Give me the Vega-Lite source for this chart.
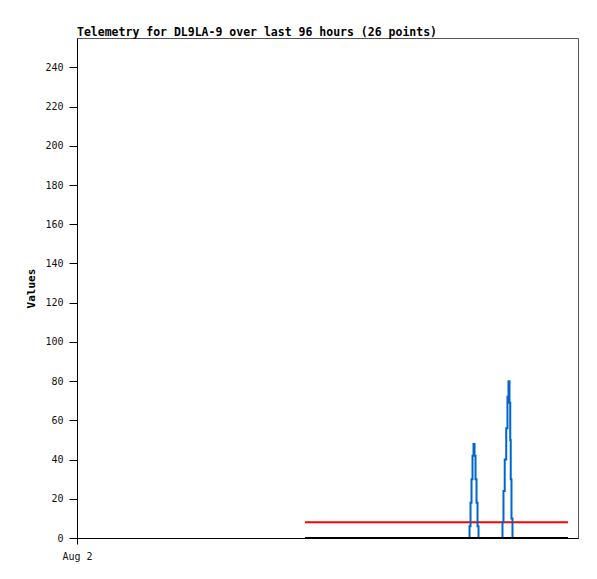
{
  "$schema": "https://vega.github.io/schema/vega-lite/v6.json",
  "width": 501,
  "height": 500,
  "autosize": "none",
  "padding": {"left": 77, "top": 38, "right": 19, "bottom": 41},
  "background": "white",
  "title": {
    "text": "Telemetry for DL9LA-9 over last 96 hours (26 points)",
    "anchor": "start",
    "frame": "group",
    "font": "DejaVu Sans Mono",
    "fontSize": 11.5,
    "fontWeight": "bold",
    "color": "black",
    "baseline": "bottom",
    "offset": -11
  },
  "config": {
    "view": {"stroke": "#555", "strokeWidth": 1},
    "axis": {
      "labelFont": "DejaVu Sans Mono",
      "labelFontSize": 10,
      "labelColor": "#111",
      "titleFont": "DejaVu Sans Mono",
      "titleFontSize": 11,
      "titleFontWeight": "bold",
      "titleColor": "black",
      "domainColor": "black",
      "tickColor": "black",
      "grid": false
    }
  },
  "data": {
    "values": [
      {"t": "2023-08-03T19:41:00", "blue": 0, "red": 8, "black": 0},
      {"t": "2023-08-04T02:24:00", "blue": 0, "red": 8, "black": 0},
      {"t": "2023-08-04T11:59:00", "blue": 0, "red": 8, "black": 0},
      {"t": "2023-08-04T19:38:00", "blue": 0, "red": 8, "black": 0},
      {"t": "2023-08-05T03:07:00", "blue": 0, "red": 8, "black": 0},
      {"t": "2023-08-05T03:18:30", "blue": 6, "red": 8, "black": 0},
      {"t": "2023-08-05T03:30:00", "blue": 18, "red": 8, "black": 0},
      {"t": "2023-08-05T03:41:30", "blue": 30, "red": 8, "black": 0},
      {"t": "2023-08-05T03:53:00", "blue": 42, "red": 8, "black": 0},
      {"t": "2023-08-05T04:04:30", "blue": 48, "red": 8, "black": 0},
      {"t": "2023-08-05T04:16:00", "blue": 42, "red": 8, "black": 0},
      {"t": "2023-08-05T04:27:30", "blue": 30, "red": 8, "black": 0},
      {"t": "2023-08-05T04:39:00", "blue": 18, "red": 8, "black": 0},
      {"t": "2023-08-05T04:50:30", "blue": 6, "red": 8, "black": 0},
      {"t": "2023-08-05T05:02:00", "blue": 0, "red": 8, "black": 0},
      {"t": "2023-08-05T09:26:00", "blue": 0, "red": 8, "black": 0},
      {"t": "2023-08-05T09:37:30", "blue": 8, "red": 8, "black": 0},
      {"t": "2023-08-05T09:49:00", "blue": 24, "red": 8, "black": 0},
      {"t": "2023-08-05T10:06:00", "blue": 40, "red": 8, "black": 0},
      {"t": "2023-08-05T10:23:30", "blue": 56, "red": 8, "black": 0},
      {"t": "2023-08-05T10:35:00", "blue": 72, "red": 8, "black": 0},
      {"t": "2023-08-05T10:46:30", "blue": 80, "red": 8, "black": 0},
      {"t": "2023-08-05T10:58:00", "blue": 69, "red": 8, "black": 0},
      {"t": "2023-08-05T11:04:00", "blue": 50, "red": 8, "black": 0},
      {"t": "2023-08-05T11:09:30", "blue": 30, "red": 8, "black": 0},
      {"t": "2023-08-05T11:21:00", "blue": 10, "red": 8, "black": 0},
      {"t": "2023-08-05T11:32:30", "blue": 0, "red": 8, "black": 0},
      {"t": "2023-08-05T16:43:00", "blue": 0, "red": 8, "black": 0},
      {"t": "2023-08-05T22:05:00", "blue": 0, "red": 8, "black": 0}
    ]
  },
  "encoding": {
    "x": {
      "field": "t",
      "type": "temporal",
      "scale": {
        "domain": [
          {"year": 2023, "month": "aug", "date": 2, "hours": 0},
          {"year": 2023, "month": "aug", "date": 6, "hours": 0}
        ]
      },
      "axis": {
        "title": null,
        "values": [{"year": 2023, "month": "aug", "date": 2, "hours": 0}],
        "format": "%b %-d",
        "tickSize": 6,
        "labelPadding": 7,
        "labelFlush": false
      }
    }
  },
  "layer": [
    {
      "mark": {"type": "line", "color": "#ff0000", "strokeWidth": 2},
      "encoding": {
        "y": {
          "field": "red",
          "type": "quantitative",
          "scale": {"domain": [0, 255], "nice": false},
          "axis": {
            "title": "Values",
            "values": [0, 20, 40, 60, 80, 100, 120, 140, 160, 180, 200, 220, 240],
            "tickSize": 8,
            "labelPadding": 6,
            "titlePadding": 8
          }
        }
      }
    },
    {
      "mark": {"type": "line", "color": "#0066cc", "strokeWidth": 2, "interpolate": "step"},
      "encoding": {"y": {"field": "blue", "type": "quantitative"}}
    },
    {
      "mark": {"type": "line", "color": "#000000", "strokeWidth": 2},
      "encoding": {"y": {"field": "black", "type": "quantitative"}}
    }
  ]
}
